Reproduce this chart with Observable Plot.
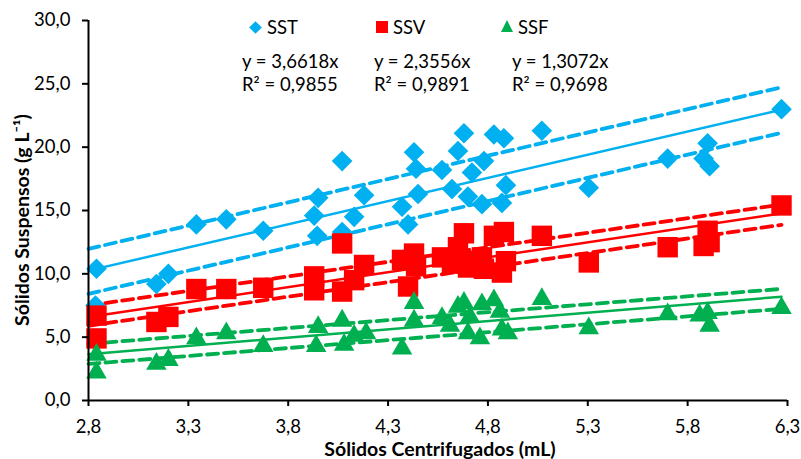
<!DOCTYPE html>
<html>
<head>
<meta charset="utf-8">
<script src="https://cdn.jsdelivr.net/npm/d3@7"></script>
<script src="https://cdn.jsdelivr.net/npm/@observablehq/plot@0.6"></script>
<style>
  html, body { margin: 0; padding: 0; background: #fff; }
  #wrap { position: relative; width: 801px; height: 459px; font-family: Lato, "Liberation Sans", sans-serif; color: #000; }
  #wrap svg { position: absolute; left: 0; top: 0; }
  .ov { position: absolute; white-space: nowrap; font-size: 18.5px; line-height: 1; }
  .ttl { font-weight: bold; font-size: 19.5px; }
</style>
</head>
<body>
<div id="wrap"></div>
<script>
// ---- data ----
const seriesNames = ["SST", "SSV", "SSF"];
const seriesColors = ["#00B0F0", "#FF0000", "#00B050"];
const seriesSymbols = ["diamond2", "square2", "triangle2"];
const slopes = [3.6618, 2.3556, 1.3072];
const r2Values = [0.9855, 0.9891, 0.9698];

const sstX = [2.84, 2.835, 3.14, 3.2, 3.34, 3.49, 3.675, 3.93, 3.945, 3.95, 4.07, 4.07, 4.13, 4.18, 4.37, 4.40, 4.43, 4.44, 4.45, 4.57, 4.62, 4.65, 4.68, 4.70, 4.72, 4.77, 4.78, 4.83, 4.87, 4.88, 4.89, 5.07, 5.305, 5.70, 5.88, 5.90, 5.91, 6.27];
const sstY = [10.4, 7.5, 9.2, 10.0, 13.9, 14.3, 13.4, 14.6, 13.0, 16.0, 18.9, 13.3, 14.5, 16.2, 15.3, 13.9, 19.6, 18.3, 16.3, 18.2, 16.7, 19.7, 21.1, 16.1, 18.0, 15.5, 18.9, 21.0, 15.6, 20.7, 17.0, 21.3, 16.8, 19.1, 19.1, 20.3, 18.5, 23.0];

const ssvX = [2.84, 2.84, 3.14, 3.2, 3.34, 3.49, 3.675, 3.93, 3.93, 4.07, 4.07, 4.13, 4.18, 4.37, 4.40, 4.43, 4.44, 4.57, 4.62, 4.65, 4.68, 4.70, 4.72, 4.77, 4.78, 4.83, 4.87, 4.88, 4.89, 5.07, 5.305, 5.70, 5.88, 5.90, 5.91, 6.27];
const ssvY = [6.7, 4.9, 6.2, 6.6, 8.8, 8.8, 8.9, 9.8, 8.7, 12.4, 8.6, 9.5, 10.7, 11.1, 9.0, 11.6, 10.6, 11.3, 10.8, 12.1, 13.2, 10.5, 11.0, 11.3, 10.4, 13.0, 10.1, 13.3, 11.0, 13.0, 10.9, 12.1, 12.2, 13.4, 12.5, 15.4];

const ssfX = [2.84, 2.84, 3.14, 3.2, 3.34, 3.49, 3.675, 3.95, 3.94, 4.07, 4.08, 4.13, 4.19, 4.37, 4.43, 4.43, 4.57, 4.61, 4.65, 4.68, 4.71, 4.70, 4.76, 4.77, 4.83, 4.86, 4.87, 4.90, 5.07, 5.305, 5.70, 5.86, 5.90, 5.91, 6.27];
const ssfY = [3.6, 2.2, 2.9, 3.2, 4.9, 5.3, 4.3, 5.8, 4.3, 6.3, 4.4, 5.1, 5.3, 4.1, 7.7, 6.3, 6.5, 5.9, 7.4, 7.7, 6.6, 5.3, 4.9, 7.6, 7.9, 7.0, 5.6, 5.3, 8.0, 5.7, 6.8, 6.7, 6.9, 5.9, 7.3];

// dashed band lines: values at the left and right ends of the fitted line
const bandUpper = [[11.97, 24.73], [7.5, 15.47], [4.47, 8.81]];
const bandLower = [[8.42, 21.13], [5.9, 13.87], [2.89, 7.23]];

const xDomain = [2.8, 6.3];
const yDomain = [0, 30];
const xTicks = [2.8, 3.3, 3.8, 4.3, 4.8, 5.3, 5.8, 6.3];
const yTicks = [0, 5, 10, 15, 20, 25, 30];

const xTitle = "Sólidos Centrifugados (mL)";
const yTitle = "Sólidos Suspensos (g L⁻¹)";

// ---- build tables ----
const xs = [sstX, ssvX, ssfX];
const ys = [sstY, ssvY, ssfY];
const points = [];
seriesNames.forEach((s, i) => xs[i].forEach((x, j) => points.push({series: s, x, y: ys[i][j]})));

const fitLines = [], upperLines = [], lowerLines = [];
seriesNames.forEach((s, i) => {
  const x0 = xDomain[0], x1 = d3.max(xs[i]);
  fitLines.push({series: s, x: x0, y: slopes[i] * x0}, {series: s, x: x1, y: slopes[i] * x1});
  upperLines.push({series: s, x: x0, y: bandUpper[i][0]}, {series: s, x: x1, y: bandUpper[i][1]});
  lowerLines.push({series: s, x: x0, y: bandLower[i][0]}, {series: s, x: x1, y: bandLower[i][1]});
});

const fmt1 = d => d.toFixed(1).replace(".", ",");
const fmt4 = d => d.toFixed(4).replace(".", ",");

const marks = [];
seriesNames.forEach((s, i) => {
  marks.push(Plot.line(fitLines.filter(d => d.series === s), {x: "x", y: "y", stroke: seriesColors[i], strokeWidth: 2.5}));
  marks.push(Plot.line(upperLines.filter(d => d.series === s), {x: "x", y: "y", stroke: seriesColors[i], strokeWidth: 3.8, strokeDasharray: "11,6"}));
  marks.push(Plot.line(lowerLines.filter(d => d.series === s), {x: "x", y: "y", stroke: seriesColors[i], strokeWidth: 3.8, strokeDasharray: "11,6"}));
});
const symR = [9.3, 13, 9.8];
seriesNames.forEach((s, i) => {
  marks.push(Plot.dot(points.filter(d => d.series === s), {x: "x", y: "y", symbol: () => seriesSymbols[i], fill: seriesColors[i], stroke: "none", r: symR[i]}));
});
marks.push(Plot.ruleY([yDomain[0]], {stroke: "#000", strokeWidth: 2}));
marks.push(Plot.ruleX([xDomain[0]], {stroke: "#000", strokeWidth: 2}));
marks.push(Plot.axisX({ticks: xTicks, tickFormat: fmt1, tickSize: 6, tickPadding: 13, label: null, fontSize: 18.5, stroke: "#000", strokeWidth: 2, fill: "#000"}));
marks.push(Plot.axisY({ticks: yTicks, tickFormat: fmt1, tickSize: 6, tickPadding: 12, label: null, fontSize: 18.5, stroke: "#000", strokeWidth: 2, fill: "#000"}));

const chart = Plot.plot({
  width: 801, height: 459,
  marginLeft: 88, marginRight: 14, marginTop: 20, marginBottom: 59,
  style: {fontFamily: "Lato, 'Liberation Sans', sans-serif", fontSize: "18.5px", color: "#000", background: "#fff"},
  x: {domain: xDomain},
  y: {domain: yDomain},
  symbol: {type: "identity"},
  marks
});

const wrap = document.getElementById("wrap");
wrap.appendChild(chart);

function addDiv(html, css, cls = "ov") {
  const d = document.createElement("div");
  d.className = cls;
  d.innerHTML = html;
  Object.assign(d.style, css);
  wrap.appendChild(d);
  return d;
}

// legend + equations
const legLeft = [251, 376, 501];
const eqLeft = [242, 374, 512];
const markerHtml = [
  c => `<span style="display:inline-block;width:9px;height:9px;background:${c};transform:rotate(45deg);margin-right:7px;vertical-align:middle;"></span>`,
  c => `<span style="display:inline-block;width:12px;height:12px;background:${c};margin-right:5px;vertical-align:middle;"></span>`,
  c => `<span style="display:inline-block;width:0;height:0;border-left:6.5px solid transparent;border-right:6.5px solid transparent;border-bottom:12px solid ${c};margin-right:5px;vertical-align:middle;position:relative;top:-1px;"></span>`
];
seriesNames.forEach((s, i) => {
  addDiv(markerHtml[i](seriesColors[i]) + `<span style="vertical-align:middle">${s}</span>`, {left: legLeft[i] + "px", top: "16px"});
  addDiv(`y = ${fmt4(slopes[i])}x`, {left: eqLeft[i] + "px", top: "52px"});
  addDiv(`R² = ${fmt4(r2Values[i])}`, {left: eqLeft[i] + "px", top: "75px"});
});

// axis titles
addDiv(xTitle, {left: "440px", top: "439px", transform: "translateX(-50%)"}, "ov ttl");
addDiv(yTitle, {left: "22px", top: "220px", transform: "translate(-50%,-50%) rotate(-90deg)"}, "ov ttl");
</script>
</body>
</html>
